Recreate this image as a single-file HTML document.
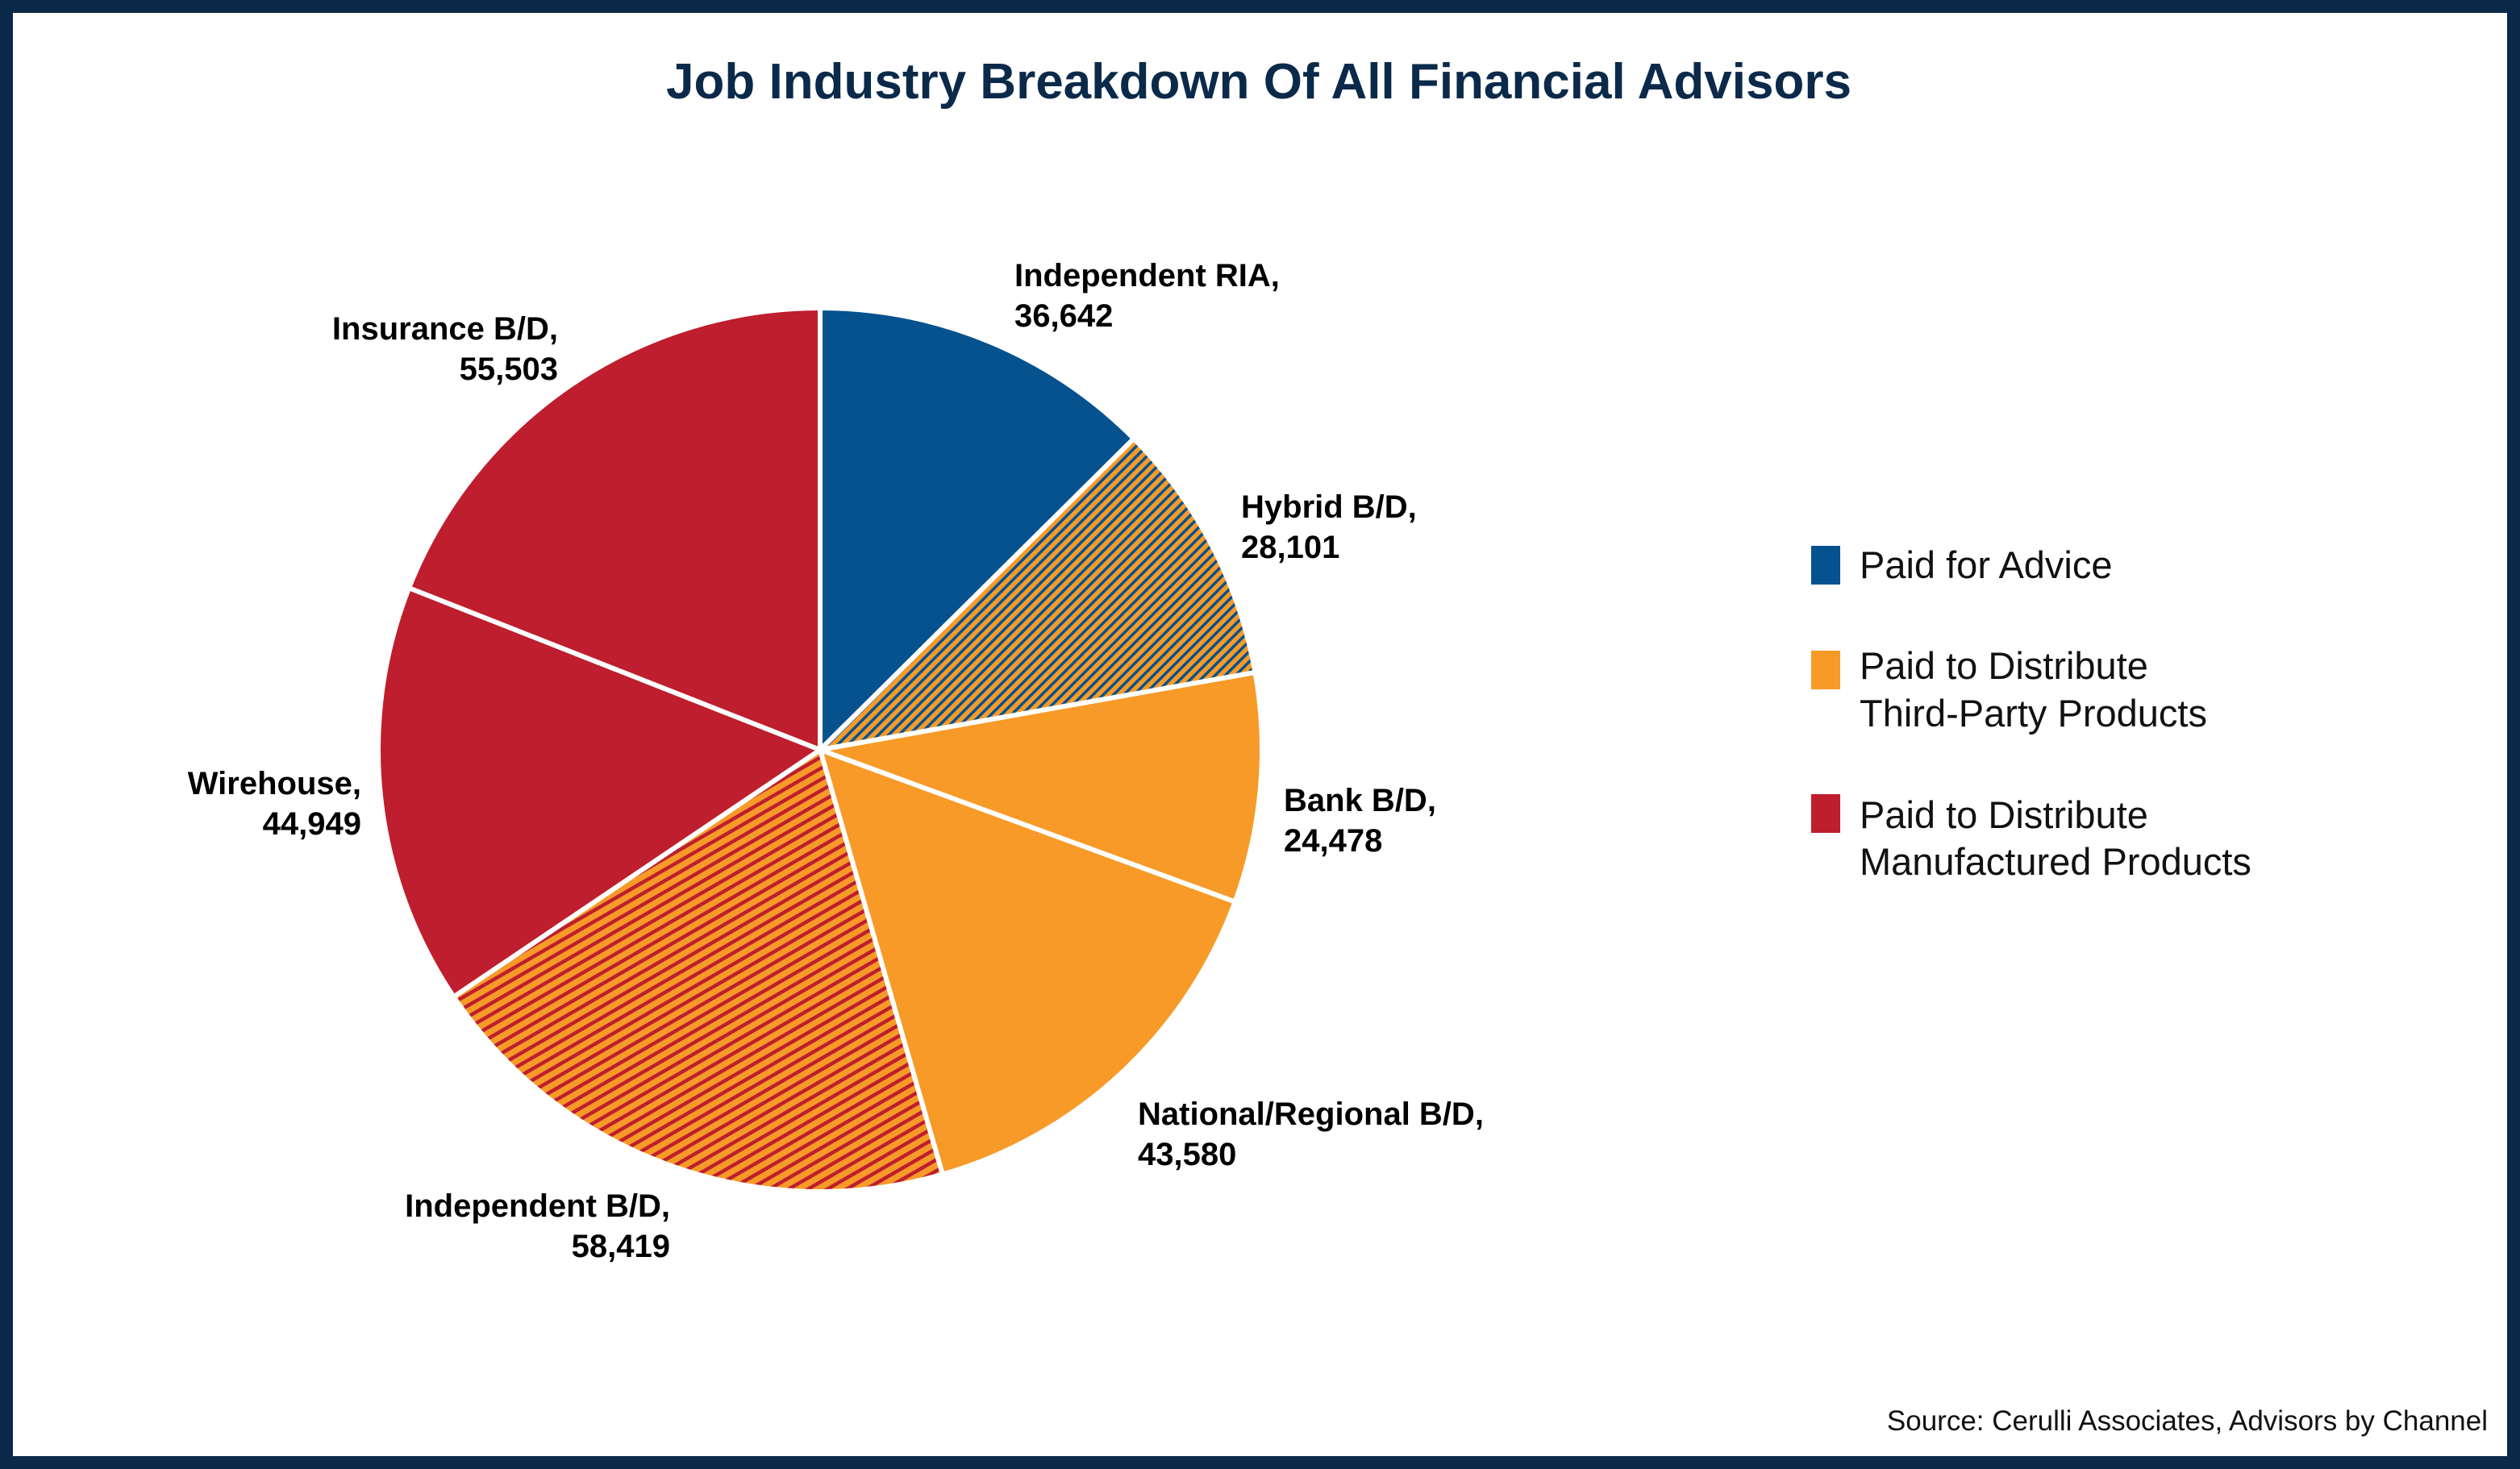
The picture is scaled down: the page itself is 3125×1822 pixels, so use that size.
<!DOCTYPE html>
<html><head><meta charset="utf-8"><style>
html,body{margin:0;padding:0;background:#fff}
svg{display:block}
</style></head><body>
<svg id="chart" width="3125" height="1822" viewBox="0 0 3125 1822" xmlns="http://www.w3.org/2000/svg">
<defs>
<pattern id="hatch-blue" patternUnits="userSpaceOnUse" width="9" height="9" patternTransform="rotate(-45)">
<rect width="9" height="9" fill="#f79a28"/><rect width="9" height="3.5" fill="#06528f"/>
</pattern>
<pattern id="hatch-red" patternUnits="userSpaceOnUse" width="12" height="12" patternTransform="rotate(-30)">
<rect width="12" height="12" fill="#f79a28"/><rect width="12" height="4.5" fill="#be1e2d"/>
</pattern>
</defs>
<rect x="8" y="8" width="3109" height="1806" fill="#fff" stroke="#0b2a4a" stroke-width="16"/>
<text x="1561" y="122" text-anchor="middle" font-family="Liberation Sans, sans-serif" font-size="62" font-weight="bold" fill="#0b2a4a">Job Industry Breakdown Of All Financial Advisors</text>
<g id="slices"></g>
<g id="labels" font-family="Liberation Sans, sans-serif" font-size="40" font-weight="bold" fill="#000"></g>
<g font-family="Liberation Sans, sans-serif" font-size="47" fill="#111">
<g><rect x="2246" y="677" width="36" height="48" fill="#06528f"/><text x="2306" y="717">Paid for Advice</text></g>
<g><rect x="2246" y="807" width="36" height="48" fill="#f79a28"/><text x="2306" y="842">Paid to Distribute</text><text x="2306" y="901">Third-Party Products</text></g>
<g><rect x="2246" y="985" width="36" height="48" fill="#be1e2d"/><text x="2306" y="1027">Paid to Distribute</text><text x="2306" y="1085">Manufactured Products</text></g>
</g>
<text x="3085" y="1774" text-anchor="end" font-family="Liberation Sans, sans-serif" font-size="35" fill="#111">Source: Cerulli Associates, Advisors by Channel</text>
</svg>
<script>
const categories = ["Independent RIA","Hybrid B/D","Bank B/D","National/Regional B/D","Independent B/D","Wirehouse","Insurance B/D"];
const values = [36642, 28101, 24478, 43580, 58419, 44949, 55503];
const valueLabels = ["36,642","28,101","24,478","43,580","58,419","44,949","55,503"];
const fills = ["#06528f","url(#hatch-blue)","#f79a28","#f79a28","url(#hatch-red)","#be1e2d","#be1e2d"];
// label layout: [x, y, anchor]
const labelPos = [[1258,355,"start"],[1539,642,"start"],[1592,1006,"start"],[1411,1395,"start"],[831,1509,"end"],[448,985,"end"],[692,421,"end"]];
const cx = 1017, cy = 930, r = 548;
const NS = "http://www.w3.org/2000/svg";
const total = values.reduce((a,b)=>a+b,0);
function angleOf(v){ return v/total*2*Math.PI; }
function pt(a){ return [cx + r*Math.sin(a), cy - r*Math.cos(a)]; }
const gS = document.getElementById("slices");
const gL = document.getElementById("labels");
let acc = 0;
values.forEach((v,i)=>{
  const a0 = acc, a1 = acc + angleOf(v); acc = a1;
  const p0 = pt(a0), p1 = pt(a1);
  const large = (a1-a0) > Math.PI ? 1 : 0;
  const path = document.createElementNS(NS,"path");
  path.setAttribute("d",`M${cx},${cy} L${p0[0]},${p0[1]} A${r},${r} 0 ${large} 1 ${p1[0]},${p1[1]} Z`);
  path.setAttribute("fill",fills[i]);
  path.setAttribute("stroke","#fff");
  path.setAttribute("stroke-width","6");
  path.setAttribute("stroke-linejoin","round");
  
  
  gS.appendChild(path);
  const t = document.createElementNS(NS,"text");
  t.setAttribute("x",labelPos[i][0]); t.setAttribute("y",labelPos[i][1]);
  t.setAttribute("text-anchor",labelPos[i][2]);
  
  
  const s1 = document.createElementNS(NS,"tspan");
  s1.setAttribute("x",labelPos[i][0]); s1.textContent = categories[i] + ",";
  const s2 = document.createElementNS(NS,"tspan");
  s2.setAttribute("x",labelPos[i][0]); s2.setAttribute("dy","50"); s2.textContent = valueLabels[i];
  t.appendChild(s1); t.appendChild(s2);
  gL.appendChild(t);
});
</script>
</body></html>
